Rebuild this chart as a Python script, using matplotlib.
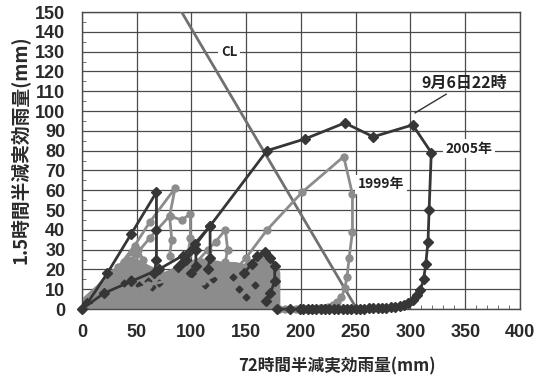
import matplotlib
matplotlib.use("Agg")
import matplotlib.pyplot as plt
from matplotlib.ticker import MultipleLocator

plt.rcParams["font.family"] = ["Noto Sans CJK JP", "DejaVu Sans"]

# --- data (72h effective rain, 1.5h effective rain) ---
cl_x = [91, 251]
cl_y = [150, 0]

y2005_x = [0, 20, 45, 70, 92, 103, 117, 169, 204, 240, 266, 302, 319, 317,
           316, 314, 312, 309, 306, 302, 298, 294, 290, 286, 282, 278, 274,
           270, 266, 262, 258, 254, 250, 246, 242, 238, 234, 230, 226, 222,
           218, 214, 210, 206, 202, 199, 190, 178]
y2005_y = [0, 8, 14, 20, 27, 33, 42, 80, 86, 94, 87, 93, 79, 50,
           34, 23, 15, 9.6, 7, 4.5, 3, 2.2, 1.6, 1.2, 0.9, 0.7, 0.5,
           0.4, 0.3, 0.3, 0.2, 0.2, 0.1, 0.1, 0.1, 0.1, 0, 0, 0, 0,
           0, 0, 0, 0, 0, 0, 0, 0]

y1999_x = [0, 30, 60, 90, 110, 125, 142, 150, 169, 201, 239, 247, 247, 244,
           242, 240, 237, 233, 229, 225, 221, 217, 213, 209, 205, 200, 195,
           190, 185, 180]
y1999_y = [0, 6, 12, 16, 14, 18, 21, 26, 40, 59, 77, 58, 39, 26,
           16, 10.6, 6, 3.5, 2, 1.2, 0.7, 0.4, 0.2, 0.1, 0, 0, 0,
           0, 0, 0]

# other events (dense cluster near the origin)
mass_x = [0, 4, 10, 16, 24, 35, 42, 48, 55, 62, 70, 76, 84, 90, 100, 108,
          120, 130, 140, 148, 155, 162, 170, 176, 178, 178, 0]
mass_y = [0, 5, 8, 11, 16, 21, 25, 24, 22, 20, 18, 17, 19, 22, 23, 24,
          23, 22, 22, 21, 23, 26, 25, 22, 18, 0, 0]

dark_a_x = [5, 23, 45, 68, 68, 68, 66]
dark_a_y = [3, 18, 38, 59, 40, 25, 18]
dark_b_x = [92, 117, 117, 115]
dark_b_y = [24, 42, 26, 20]
dark_c_x = [148, 155, 160, 167, 172, 176, 176, 172, 168]
dark_c_y = [18, 23, 27, 29, 26, 22, 14, 8, 4]
dark_d_x = [88, 95, 104, 104, 100]
dark_d_y = [21, 25, 30, 22, 18]
dark_e_x = [38, 45, 52, 60, 64, 70, 112, 120, 138, 143, 150, 158]
dark_e_y = [13, 15, 12, 14, 11, 13, 12, 15, 16, 10, 6, 12]

grey_a_x = [33, 48, 62, 85, 80, 91, 99, 99, 97]
grey_a_y = [21, 32, 44, 61, 47, 45, 48, 36, 28]
grey_b_x = [40, 50, 62, 80, 82, 80]
grey_b_y = [22, 28, 36, 47, 35, 27]
grey_c_x = [105, 115, 122, 131, 133, 131]
grey_c_y = [24, 30, 34, 40, 30, 24]
grey_d_x = [38, 46, 51, 56]
grey_d_y = [24, 29, 30, 25]

xticks = [0, 50, 100, 150, 200, 250, 300, 350, 400]
yticks = list(range(0, 151, 10))

DARK = "#363636"
GREY = "#8c8c8c"

fig = plt.figure(figsize=(5.43, 3.76), dpi=100)
ax = fig.add_axes([0.151, 0.178, 0.8066, 0.79])

ax.set_xlim(0, 400)
ax.set_ylim(0, 150)
ax.set_xticks(xticks)
ax.set_yticks(yticks)
ax.xaxis.set_minor_locator(MultipleLocator(10))
ax.yaxis.set_minor_locator(MultipleLocator(5))
ax.tick_params(which="major", length=0, labelsize=13)
ax.tick_params(axis="y", which="major", pad=12)
ax.tick_params(axis="x", which="major", pad=11)
ax.tick_params(which="minor", direction="in", length=3, color="#555555")
for lab in ax.get_xticklabels() + ax.get_yticklabels():
    lab.set_family(["Liberation Sans", "DejaVu Sans"])
    lab.set_fontweight("bold")
    lab.set_color("#2a2a2a")
ax.grid(True, which="major", color="#4a4a4a", linewidth=0.9)
ax.set_axisbelow(True)
for sp in ax.spines.values():
    sp.set_color("#4a4a4a")
    sp.set_linewidth(1.0)

# dense cluster of small events
ax.fill(mass_x, mass_y, facecolor=GREY, edgecolor=GREY, linewidth=5,
        joinstyle="round", zorder=2)
for xs, ys in [(grey_a_x, grey_a_y), (grey_b_x, grey_b_y),
               (grey_c_x, grey_c_y), (grey_d_x, grey_d_y)]:
    ax.plot(xs, ys, color=GREY, linewidth=2, marker="o", markersize=5, zorder=3)
for xs, ys in [(dark_a_x, dark_a_y), (dark_b_x, dark_b_y),
               (dark_c_x, dark_c_y), (dark_d_x, dark_d_y)]:
    ax.plot(xs, ys, color=DARK, linewidth=2, marker="D", markersize=5, zorder=3)
ax.plot(dark_e_x, dark_e_y, color=DARK, linestyle="none", marker="D",
        markersize=3.5, zorder=3)

# critical line
ax.plot(cl_x, cl_y, color="#707070", linewidth=2, zorder=4)

# 1999 and 2005 events
ax.plot(y1999_x, y1999_y, color=GREY, linewidth=2, marker="o", markersize=5,
        zorder=5, clip_on=False)
ax.plot(y2005_x, y2005_y, color=DARK, linewidth=2, marker="D", markersize=5,
        zorder=6, clip_on=False)

box = dict(facecolor="white", edgecolor="none", pad=2)
ax.text(127, 130, "CL", fontsize=9.5, fontweight="bold", color="#222222",
        ha="left", va="center", bbox=box, zorder=7)
ax.text(252, 63, "1999年", fontsize=10, fontweight="bold", color="#222222",
        ha="left", va="center", bbox=box, zorder=7)
ax.text(332, 81, "2005年", fontsize=10, fontweight="bold", color="#222222",
        ha="left", va="center", bbox=box, zorder=7)
ax.annotate("9月6日22時", xy=(304, 99), xytext=(310, 114),
            fontsize=11.5, fontweight="bold", color="#222222",
            ha="left", va="center",
            arrowprops=dict(arrowstyle="-", color="#333333", linewidth=1,
                            shrinkA=0, shrinkB=0),
            zorder=7)

fig.text(21 / 543, 1 - 150 / 376, "1.5時間半減実効雨量(mm)", rotation=90,
         fontsize=13.5, fontweight="bold", ha="center", va="center",
         color="#2a2a2a")
fig.text(337 / 543, 1 - 375 / 376, "72時間半減実効雨量(mm)",
         fontsize=12, fontweight="bold", ha="center", va="bottom",
         color="#2a2a2a")

fig.savefig("out.png", dpi=100)
